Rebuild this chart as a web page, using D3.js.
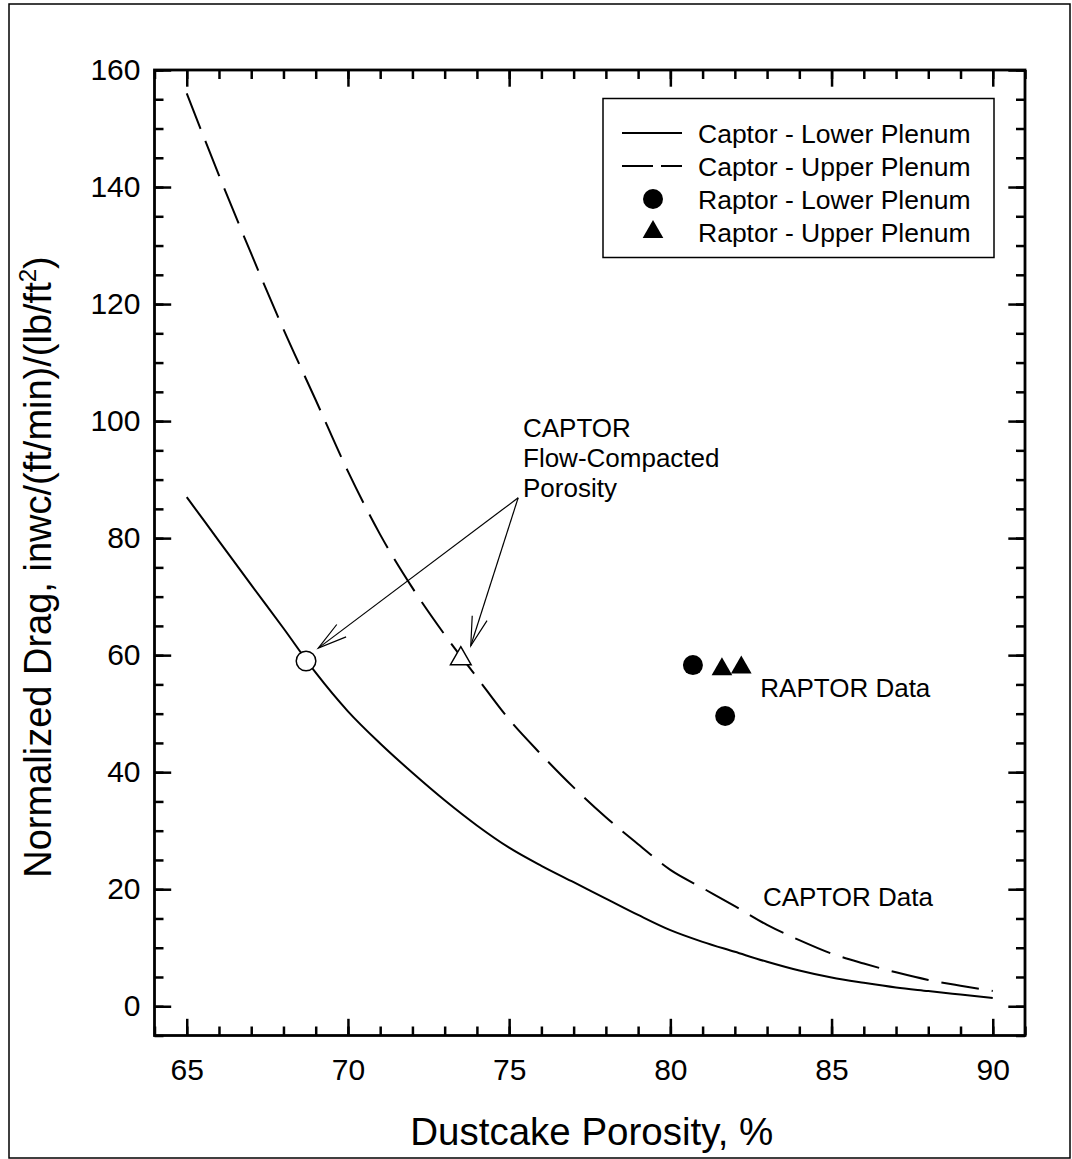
<!DOCTYPE html>
<html>
<head>
<meta charset="utf-8">
<script src="https://cdn.jsdelivr.net/npm/d3@7"></script>
<style>
  body { margin: 0; background: #fff; }
  svg { font-family: "Liberation Sans", Arial, sans-serif; }
</style>
</head>
<body>
<div id="chart"></div>
<script>
// porosity grid of the CAPTOR curves (%)
const porosity = [65, 66, 67, 68, 69, 70, 71, 72, 73, 74, 75, 76, 77, 78, 79, 80, 81, 82, 83, 84, 85, 86, 87, 88, 89, 90];
const captorLower = [87, 79.5, 72, 64.6, 57, 50.4, 44.9, 39.9, 35.2, 30.9, 27.1, 24, 21.2, 18.4, 15.6, 13, 11, 9.3, 7.6, 6.1, 4.9, 4, 3.2, 2.6, 2, 1.4];
const captorUpper = [156, 142, 128.6, 115.7, 103.6, 91.4, 80.6, 71.5, 63.5, 56.2, 49, 43, 37.4, 32.3, 27.7, 23.3, 20.2, 17.1, 13.9, 11.3, 9, 7.3, 5.8, 4.5, 3.5, 2.6];

// RAPTOR points
const raptorLowerX = [80.7, 81.7];
const raptorLowerY = [58.3, 49.6];
const raptorUpperX = [81.6, 82.2];
const raptorUpperY = [57.6, 57.9];

// flow-compacted porosity points (open symbols)
const compactedX = [68.7, 73.5];
const compactedY = [59, 59.4];

const xTicks = [65, 70, 75, 80, 85, 90];
const yTicks = [0, 20, 40, 60, 80, 100, 120, 140, 160];

const legendLabels = ["Captor - Lower Plenum", "Captor - Upper Plenum", "Raptor - Lower Plenum", "Raptor - Upper Plenum"];
const noteLines = ["CAPTOR", "Flow-Compacted", "Porosity"];

const width = 1072, height = 1159;
const svg = d3.select('#chart').append('svg')
    .attr('width', width)
    .attr('height', height);

const x = d3.scaleLinear().domain([64, 91]).range([154.5, 1025]);
const y = d3.scaleLinear().domain([-5, 160]).range([1035.5, 70]);

// outer border
svg.append('rect')
    .attr('x', 9).attr('y', 4)
    .attr('width', 1061).attr('height', 1154)
    .attr('fill', 'none').attr('stroke', '#000').attr('stroke-width', 1.5);

// axes : major + minor ticks, all pointing inward
function styleAxis(g) {
  g.select('.domain').remove();
  g.selectAll('.tick line').attr('stroke', '#000').attr('stroke-width', 2.5);
  g.selectAll('.tick text').attr('fill', '#000').style('font-size', '30px');
}
const xMinor = d3.range(64, 92, 1);
const yMinor = d3.range(-5, 161, 5);

svg.append('g').attr('transform', 'translate(0,' + y.range()[0] + ')')
    .call(d3.axisBottom(x).tickValues(xMinor).tickSize(-9).tickFormat(''))
    .call(styleAxis);
svg.append('g').attr('transform', 'translate(0,' + y.range()[0] + ')')
    .call(d3.axisBottom(x).tickValues(xTicks).tickSize(-16.7).tickPadding(23.5).tickFormat(d3.format('d')))
    .call(styleAxis);
svg.append('g').attr('transform', 'translate(0,' + y.range()[1] + ')')
    .call(d3.axisTop(x).tickValues(xMinor).tickSize(-9).tickFormat(''))
    .call(styleAxis);
svg.append('g').attr('transform', 'translate(0,' + y.range()[1] + ')')
    .call(d3.axisTop(x).tickValues(xTicks).tickSize(-16.7).tickFormat(''))
    .call(styleAxis);

svg.append('g').attr('transform', 'translate(' + x.range()[0] + ',0)')
    .call(d3.axisLeft(y).tickValues(yMinor).tickSize(-9).tickFormat(''))
    .call(styleAxis);
svg.append('g').attr('transform', 'translate(' + x.range()[0] + ',0)')
    .call(d3.axisLeft(y).tickValues(yTicks).tickSize(-16.7).tickPadding(14).tickFormat(d3.format('d')))
    .call(styleAxis);
svg.append('g').attr('transform', 'translate(' + x.range()[1] + ',0)')
    .call(d3.axisRight(y).tickValues(yMinor).tickSize(-9).tickFormat(''))
    .call(styleAxis);
svg.append('g').attr('transform', 'translate(' + x.range()[1] + ',0)')
    .call(d3.axisRight(y).tickValues(yTicks).tickSize(-16.7).tickFormat(''))
    .call(styleAxis);

// plot frame
svg.append('rect')
    .attr('x', x.range()[0]).attr('y', y.range()[1])
    .attr('width', x.range()[1] - x.range()[0])
    .attr('height', y.range()[0] - y.range()[1])
    .attr('fill', 'none').attr('stroke', '#000').attr('stroke-width', 2.8);

// axis titles
svg.append('text')
    .attr('x', (x.range()[0] + x.range()[1]) / 2 + 2)
    .attr('y', 1145)
    .attr('text-anchor', 'middle')
    .style('font-size', '38.5px')
    .text('Dustcake Porosity, %');

const yTitle = svg.append('text')
    .attr('transform', 'translate(51,567) rotate(-90)')
    .attr('text-anchor', 'middle')
    .style('font-size', '38px');
yTitle.append('tspan').text('Normalized Drag, inwc/(ft/min)/(lb/ft');
yTitle.append('tspan').attr('dy', -15).style('font-size', '24px').text('2');
yTitle.append('tspan').attr('dy', 15).text(')');

// CAPTOR curves
const line = d3.line()
    .x(function(d) { return x(d[0]); })
    .y(function(d) { return y(d[1]); })
    .curve(d3.curveMonotoneX);

svg.append('path')
    .datum(d3.zip(porosity, captorLower))
    .attr('d', line)
    .attr('fill', 'none').attr('stroke', '#000').attr('stroke-width', 2);

svg.append('path')
    .datum(d3.zip(porosity, captorUpper))
    .attr('d', line)
    .attr('fill', 'none').attr('stroke', '#000').attr('stroke-width', 2)
    .attr('stroke-dasharray', '38,13');

// RAPTOR data
svg.selectAll('circle.rl')
    .data(d3.zip(raptorLowerX, raptorLowerY))
    .enter().append('circle')
    .attr('class', 'rl')
    .attr('cx', function(d) { return x(d[0]); })
    .attr('cy', function(d) { return y(d[1]); })
    .attr('r', 10).attr('fill', '#000');

const tri = d3.symbol().type(d3.symbolTriangle).size(185);
svg.selectAll('path.ru')
    .data(d3.zip(raptorUpperX, raptorUpperY))
    .enter().append('path')
    .attr('class', 'ru')
    .attr('d', tri)
    .attr('transform', function(d) { return 'translate(' + x(d[0]) + ',' + y(d[1]) + ')'; })
    .attr('fill', '#000');

// flow-compacted porosity (open symbols)
svg.append('circle')
    .attr('cx', x(compactedX[0])).attr('cy', y(compactedY[0]))
    .attr('r', 9.8).attr('fill', '#fff').attr('stroke', '#000').attr('stroke-width', 1.5);
svg.append('path')
    .attr('d', tri)
    .attr('transform', 'translate(' + x(compactedX[1]) + ',' + y(compactedY[1]) + ')')
    .attr('fill', '#fff').attr('stroke', '#000').attr('stroke-width', 1.5);

// annotation : text + arrows
const noteX = 75.43, noteY = 97.2;
svg.append('g').selectAll('text')
    .data(noteLines)
    .enter().append('text')
    .attr('x', x(noteX))
    .attr('y', function(d, i) { return y(noteY) + i * 29.8; })
    .style('font-size', '26px')
    .text(function(d) { return d; });

const arrowFrom = [75.28, 86.9];
const arrowTo = [[69.08, 61.2], [73.81, 61.6]];
arrowTo.forEach(function(t) {
  const x0 = x(arrowFrom[0]), y0 = y(arrowFrom[1]);
  const x1 = x(t[0]), y1 = y(t[1]);
  const a = Math.atan2(y0 - y1, x0 - x1);
  const len = 30, spread = 15 * Math.PI / 180;
  svg.append('line')
      .attr('x1', x0).attr('y1', y0).attr('x2', x1).attr('y2', y1)
      .attr('stroke', '#000').attr('stroke-width', 1.2);
  svg.append('path')
      .attr('d', 'M' + (x1 + len * Math.cos(a + spread)) + ',' + (y1 + len * Math.sin(a + spread)) +
                 'L' + x1 + ',' + y1 +
                 'L' + (x1 + len * Math.cos(a - spread)) + ',' + (y1 + len * Math.sin(a - spread)))
      .attr('fill', 'none').attr('stroke', '#000').attr('stroke-width', 1.2);
});

svg.append('text')
    .attr('x', x(82.79)).attr('y', y(52.8))
    .style('font-size', '26px')
    .text('RAPTOR Data');
svg.append('text')
    .attr('x', x(82.87)).attr('y', y(17.1))
    .style('font-size', '26px')
    .text('CAPTOR Data');

// legend
const legend = svg.append('g');
legend.append('rect')
    .attr('x', 603).attr('y', 98.5)
    .attr('width', 391).attr('height', 159)
    .attr('fill', '#fff').attr('stroke', '#000').attr('stroke-width', 1.5);

const rows = legend.selectAll('g.row')
    .data(legendLabels)
    .enter().append('g')
    .attr('class', 'row')
    .attr('transform', function(d, i) { return 'translate(0,' + (133 + i * 33) + ')'; });

rows.append('text')
    .attr('x', 698).attr('y', 9.5)
    .style('font-size', '26.5px')
    .text(function(d) { return d; });

rows.each(function(d, i) {
  const r = d3.select(this);
  if (i === 0) {
    r.append('line').attr('x1', 622).attr('x2', 682).attr('y1', 0).attr('y2', 0)
        .attr('stroke', '#000').attr('stroke-width', 2);
  } else if (i === 1) {
    r.append('line').attr('x1', 622).attr('x2', 682).attr('y1', 0).attr('y2', 0)
        .attr('stroke', '#000').attr('stroke-width', 2).attr('stroke-dasharray', '31,8');
  } else if (i === 2) {
    r.append('circle').attr('cx', 653).attr('cy', 0).attr('r', 10).attr('fill', '#000');
  } else {
    r.append('path').attr('d', tri).attr('transform', 'translate(653,0)').attr('fill', '#000');
  }
});
</script>
</body>
</html>
